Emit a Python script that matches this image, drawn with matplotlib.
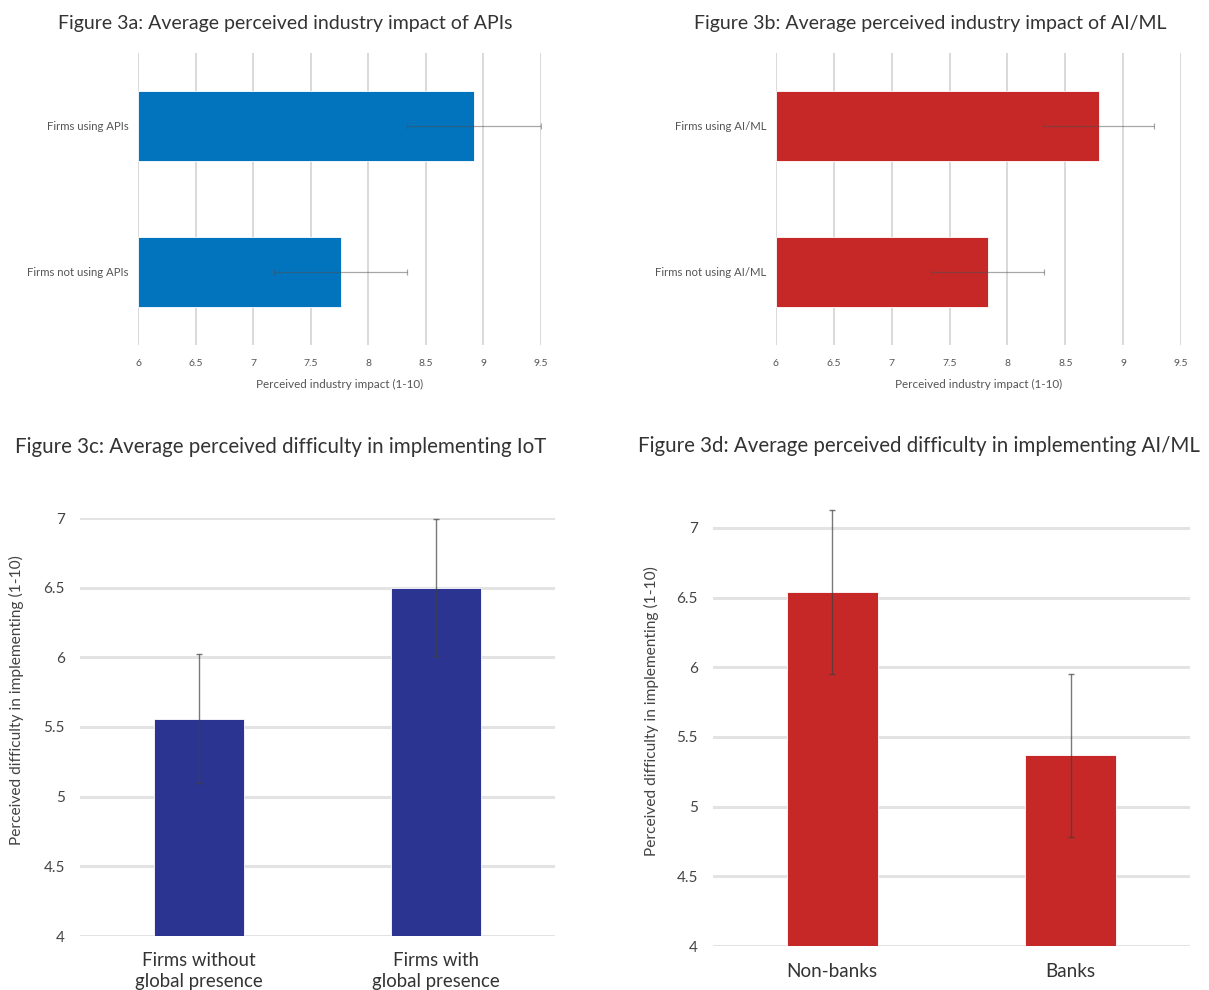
import matplotlib
matplotlib.use("Agg")
import matplotlib.pyplot as plt
import numpy as np

plt.rcParams['font.family'] = ['Lato', 'DejaVu Sans']

# ---- data ----
cats_a = ["Firms using APIs", "Firms not using APIs"]
vals_a = [8.92, 7.76]
err_a = [0.58, 0.58]

cats_b = ["Firms using AI/ML", "Firms not using AI/ML"]
vals_b = [8.79, 7.83]
err_b = [0.48, 0.49]

cats_c = ["Firms without\nglobal presence", "Firms with\nglobal presence"]
vals_c = [5.56, 6.50]
err_c = [0.465, 0.49]

cats_d = ["Non-banks", "Banks"]
vals_d = [6.54, 5.37]
err_d = [0.59, 0.585]

xticks_ab = [6, 6.5, 7, 7.5, 8, 8.5, 9, 9.5]
yticks_cd = [4, 4.5, 5, 5.5, 6, 6.5, 7]

W, H = 1209, 990
fig = plt.figure(figsize=(W / 100, H / 100), dpi=100)


def px_axes(l, r, t, b):
    return fig.add_axes([l / W, 1 - b / H, (r - l) / W, (b - t) / H])


def style(ax):
    for s in ax.spines.values():
        s.set_visible(False)
    ax.tick_params(length=0)
    ax.set_axisbelow(True)


def hbar_panel(ax, cats, vals, errs, color, title, title_x):
    style(ax)
    y = np.arange(len(cats))
    ax.barh(y, [v - 6 for v in vals], left=6, height=0.48, color=color,
            edgecolor='white', linewidth=0.6)
    ax.errorbar(vals, y, xerr=errs, fmt='none', ecolor='#505050', alpha=0.5,
                elinewidth=0.9, capsize=2, capthick=0.9)
    ax.set_xlim(6, 9.5)
    ax.set_ylim(1.5, -0.5)
    ax.set_xticks(xticks_ab)
    ax.set_xticklabels([f"{t:g}" for t in xticks_ab], fontsize=7.5, color='#555555')
    ax.set_yticks(y)
    ax.set_yticklabels(cats, fontsize=8.2, color='#555555')
    ax.tick_params(axis='x', pad=10)
    ax.tick_params(axis='y', pad=7)
    ax.grid(axis='x', color='#d9d9d9', linewidth=1.4)
    ax.set_xlabel("Perceived industry impact (1-10)", fontsize=8.4, color='#555555',
                  labelpad=8)
    fig.text(title_x / W, 1 - 24 / H, title, fontsize=14, color='#333333',
             ha='center', va='center')


def vbar_panel(ax, cats, vals, errs, color, title, title_x, title_y, ytop, lab_xy,
               lab_size, xpad):
    style(ax)
    x = np.arange(len(cats))
    ax.bar(x, [v - 4 for v in vals], bottom=4, width=0.38, color=color,
           edgecolor='white', linewidth=0.6)
    ax.errorbar(x, vals, yerr=errs, fmt='none', ecolor='#404040', alpha=0.7,
                elinewidth=1.0, capsize=2, capthick=1.0)
    ax.set_ylim(4, ytop)
    ax.set_xlim(-0.5, 1.5)
    ax.set_yticks(yticks_cd)
    ax.set_yticklabels([f"{t:g}" for t in yticks_cd], fontsize=11, color='#444444')
    ax.set_xticks(x)
    ax.set_xticklabels(cats, fontsize=lab_size, color='#333333', linespacing=1.3)
    ax.tick_params(axis='y', pad=11)
    ax.tick_params(axis='x', pad=xpad)
    ax.grid(axis='y', color='#e3e3e3', linewidth=2.2)
    ax.set_ylabel("Perceived difficulty in implementing (1-10)", fontsize=11.2,
                  color='#444444')
    ax.yaxis.set_label_coords(*lab_xy)
    fig.text(title_x / W, 1 - title_y / H, title, fontsize=14.8, color='#333333',
             ha='left', va='center')


ax_a = px_axes(138, 541, 53, 345)
hbar_panel(ax_a, cats_a, vals_a, err_a, '#0174bd',
           "Figure 3a: Average perceived industry impact of APIs", 285)

ax_b = px_axes(776, 1181, 53, 345)
hbar_panel(ax_b, cats_b, vals_b, err_b, '#c62828',
           "Figure 3b: Average perceived industry impact of AI/ML", 930)

ax_c = px_axes(80, 555, 518, 936)
vbar_panel(ax_c, cats_c, vals_c, err_c, '#2b3591',
           "Figure 3c: Average perceived difficulty in implementing IoT", 15, 447,
           7.0, (-0.117, 0.565), 13.4, 11.5)

ax_d = px_axes(713, 1190, 507, 946)
vbar_panel(ax_d, cats_d, vals_d, err_d, '#c62828',
           "Figure 3d: Average perceived difficulty in implementing AI/ML", 638, 446,
           7.15, (-0.113, 0.535), 13.6, 12)

fig.savefig("out.png", dpi=100)
